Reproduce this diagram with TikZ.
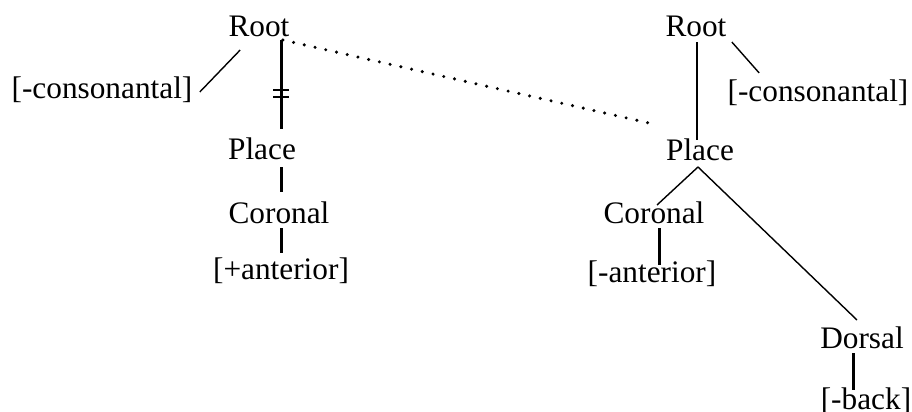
\documentclass[tikz,border=0pt]{standalone}
\usepackage{fontspec}
\setmainfont{Liberation Serif}
\usepackage{tikz}
\usetikzlibrary{positioning}
\tikzset{
  feat/.style={inner sep=0pt, anchor=base, font=\fontsize{15.65}{18}\selectfont},
  thinlink/.style={line width=0.7pt},
  midlink/.style={line width=1pt},
  thicklink/.style={line width=1.5pt},
  dotlink/.style={line width=1.7pt, line cap=round, dash pattern=on 0pt off 5.5pt}
}

\begin{document}
\begin{tikzpicture}[x=0.5pt, y=-0.5pt]
\useasboundingbox (0,0) rectangle (912,412);

% --- Left tree ---
\node[feat] (rootL) at (259,37) {Root};
\node[feat] (consL) at (102,98) {[-consonantal]};
\node[feat] (placeL) at (262,159) {Place};
\node[feat] (corL) at (279,223) {Coronal};
\node[feat] (antL) at (281,279) {[+anterior]};

\draw[thinlink] ([shift={(7,-6)}]consL.base east) -- ([shift={(12,13)}]rootL.base west);
\draw[thicklink] ([shift={(22,3)}]rootL.base) -- coordinate[pos=0.6] (cut)
  ([shift={(19,-30)}]placeL.base);
\draw[midlink] ([shift={(-8,-3.5)}]cut) -- ++(16,0);
\draw[midlink] ([shift={(-8,3.5)}]cut) -- ++(16,0);
\draw[thicklink] ([shift={(19,8)}]placeL.base) -- ([shift={(2,-31)}]corL.base);
\draw[thicklink] ([shift={(2,5)}]corL.base) -- ([shift={(0,-26)}]antL.base);

% --- Right tree ---
\node[feat] (rootR) at (696,37) {Root};
\node[feat] (consR) at (818,101) {[-consonantal]};
\node[feat] (placeR) at (700,160) {Place};
\node[feat] (corR) at (654,223) {Coronal};
\node[feat] (antR) at (652,282) {[-anterior]};
\node[feat] (dorsal) at (862,348) {Dorsal};
\node[feat] (back) at (866,409) {[-back]};

\draw[midlink] ([shift={(1,5)}]rootR.base) -- ([shift={(-3,-20)}]placeR.base);
\draw[thinlink] ([shift={(5,5)}]rootR.base east) -- ([shift={(32,-28)}]consR.base west);
\draw[thinlink] ([shift={(-2,7)}]placeR.base) -- ([shift={(3,-18)}]corR.base);
\draw[thinlink] ([shift={(-2,7)}]placeR.base) -- ([shift={(-5,-28)}]dorsal.base);
\draw[thicklink] ([shift={(5,5)}]corR.base) -- ([shift={(7,-17)}]antR.base);
\draw[thicklink] ([shift={(-9,5)}]dorsal.base) -- ([shift={(-13,-19)}]back.base);

% --- Spreading link ---
\draw[dotlink] ([shift={(-7,3)}]rootL.base east) -- ([shift={(-8,-35)}]placeR.base west);

\end{tikzpicture}
\end{document}
